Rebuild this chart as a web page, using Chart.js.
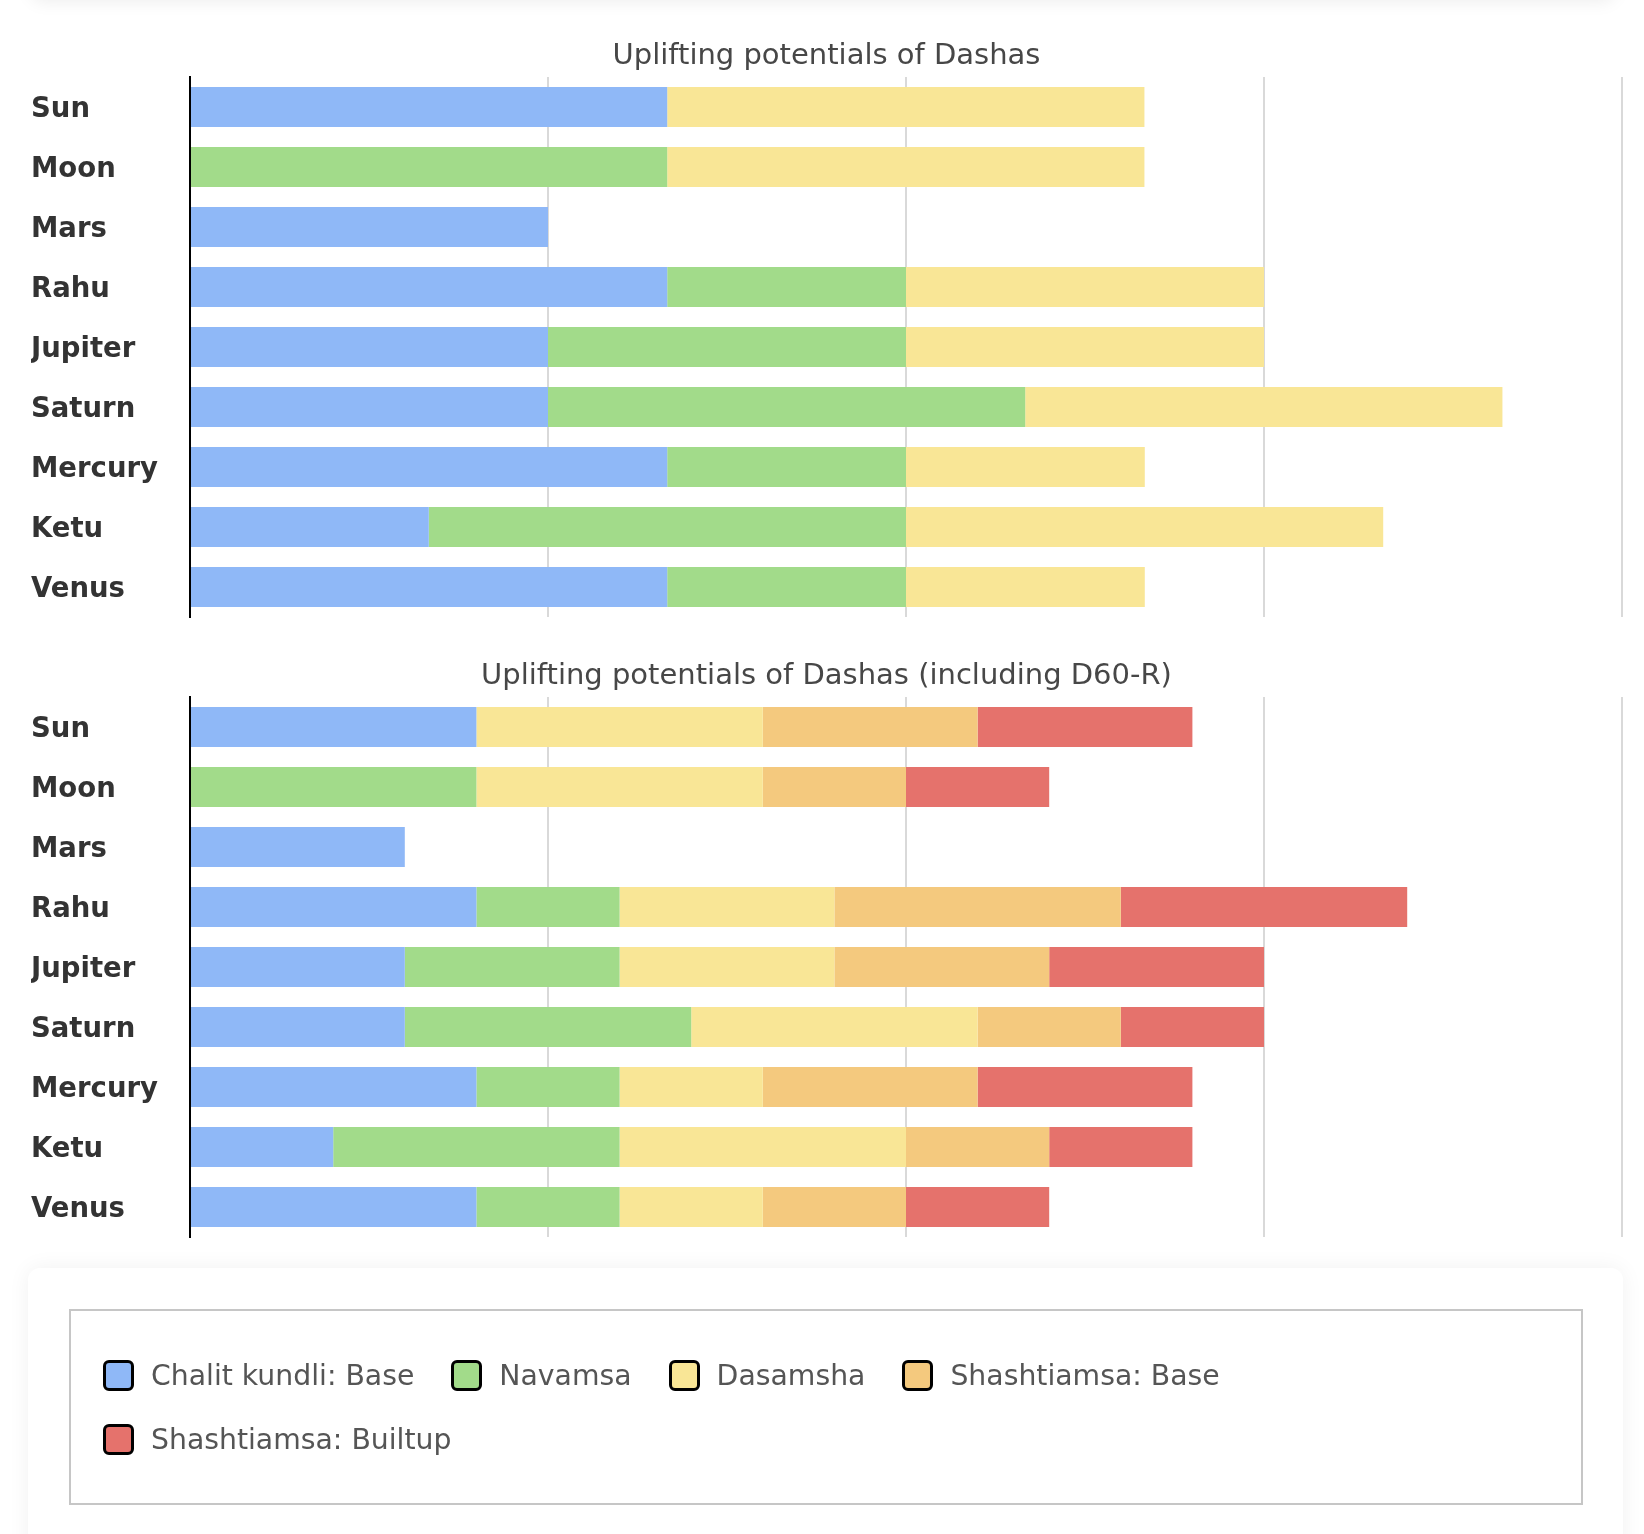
<!DOCTYPE html>
<html>
<head>
<meta charset="utf-8">
<title>Uplifting potentials of Dashas</title>
<script src="https://cdn.jsdelivr.net/npm/chart.js@4/dist/chart.umd.min.js"></script>
<style>
    body { margin: 0; background: #fff; font-family: 'DejaVu Sans', sans-serif; overflow: hidden; }
    .top-card { position: absolute; left: 31px; top: -80px; width: 1584px; height: 78px; border-radius: 12px; background: #fff; box-shadow: 0 3px 18px rgba(0,0,0,0.08); }
    canvas { position: absolute; left: 0; }
    #chart-base { top: 0; }
    #chart-d60 { top: 620px; }
    .legend-card { position: absolute; left: 28px; top: 1268px; width: 1595px; height: 400px; border-radius: 12px; background: #fff; box-shadow: 0 0 22px rgba(0,0,0,0.06); }
    .legend-box { position: absolute; left: 41px; top: 41px; width: 1514px; height: 196px; box-sizing: border-box; border: 2px solid #c6c6c6; padding: 32px; display: flex; flex-wrap: wrap; align-content: flex-start; }
    .legend-item { display: flex; align-items: center; height: 64px; margin-right: 37px; font-size: 28.3px; color: #555; white-space: nowrap; }
    .legend-swatch { width: 31px; height: 31px; box-sizing: border-box; border: 3.5px solid #000; border-radius: 6px; margin-right: 17px; }
</style>
</head>
<body>
<div class="top-card"></div>
<canvas id="chart-base" width="1644" height="640"></canvas>
<canvas id="chart-d60" width="1644" height="640"></canvas>
<div class="legend-card"><div class="legend-box" id="legend"></div></div>

<script>
    const planets = ['Sun', 'Moon', 'Mars', 'Rahu', 'Jupiter', 'Saturn', 'Mercury', 'Ketu', 'Venus'];

    const seriesNames = ['Chalit kundli: Base', 'Navamsa', 'Dasamsha', 'Shashtiamsa: Base', 'Shashtiamsa: Builtup'];
    const seriesColors = ['#8fb8f7', '#a2db8a', '#f9e696', '#f4c97e', '#e5726c'];

    // first chart
    const chalitBase = [1.333, 0, 1, 1.333, 1, 1, 1.333, 0.667, 1.333];
    const navamsa = [0, 1.333, 0, 0.667, 1, 1.333, 0.667, 1.333, 0.667];
    const dasamsha = [1.333, 1.333, 0, 1, 1, 1.333, 0.667, 1.333, 0.667];

    // second chart (including D60-R)
    const chalitBaseD60 = [0.8, 0, 0.6, 0.8, 0.6, 0.6, 0.8, 0.4, 0.8];
    const navamsaD60 = [0, 0.8, 0, 0.4, 0.6, 0.8, 0.4, 0.8, 0.4];
    const dasamshaD60 = [0.8, 0.8, 0, 0.6, 0.6, 0.8, 0.4, 0.8, 0.4];
    const shashtiBaseD60 = [0.6, 0.4, 0, 0.8, 0.6, 0.4, 0.6, 0.4, 0.4];
    const shashtiBuiltupD60 = [0.6, 0.4, 0, 0.8, 0.6, 0.4, 0.6, 0.4, 0.4];

    Chart.defaults.font.family = "'DejaVu Sans', sans-serif";

    function makeConfig(title, series) {
        return {
            type: 'bar',
            data: {
                labels: planets,
                datasets: series.map((d, i) => ({
                    label: seriesNames[i],
                    data: d,
                    backgroundColor: seriesColors[i],
                    borderWidth: 0,
                    categoryPercentage: 0.8,
                    barPercentage: 0.8333
                }))
            },
            options: {
                indexAxis: 'y',
                responsive: false,
                animation: false,
                devicePixelRatio: 1,
                layout: { padding: { left: 31, right: 22, top: 0, bottom: 23 } },
                plugins: {
                    legend: { display: false },
                    tooltip: { enabled: false },
                    title: {
                        display: true,
                        text: title,
                        color: '#474747',
                        font: { size: 29, weight: 'normal' },
                        padding: { top: 39, bottom: 3.2 }
                    }
                },
                scales: {
                    x: {
                        stacked: true,
                        min: 0,
                        max: 4,
                        ticks: { display: false, stepSize: 1 },
                        grid: { color: '#d9d9d9', lineWidth: 2, drawTicks: false },
                        border: { display: false }
                    },
                    y: {
                        stacked: true,
                        afterFit: s => { s.width = 159; },
                        ticks: {
                            crossAlign: 'far',
                            padding: 0,
                            labelOffset: 3,
                            color: '#333',
                            font: { size: 27.5, weight: 'bold' }
                        },
                        grid: { display: false },
                        border: { display: true, color: '#000', width: 2 }
                    }
                }
            }
        };
    }

    new Chart(document.getElementById('chart-base'),
        makeConfig('Uplifting potentials of Dashas', [chalitBase, navamsa, dasamsha]));

    new Chart(document.getElementById('chart-d60'),
        makeConfig('Uplifting potentials of Dashas (including D60-R)',
            [chalitBaseD60, navamsaD60, dasamshaD60, shashtiBaseD60, shashtiBuiltupD60]));

    const legend = document.getElementById('legend');
    seriesNames.forEach((name, i) => {
        const item = document.createElement('div');
        item.className = 'legend-item';
        item.innerHTML = '<span class="legend-swatch" style="background:' + seriesColors[i] + '"></span>' + name;
        legend.appendChild(item);
    });
</script>
</body>
</html>
